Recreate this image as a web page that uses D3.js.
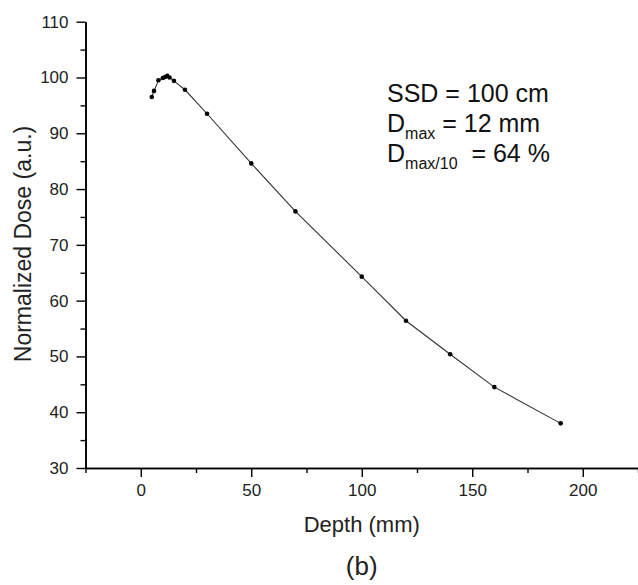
<!DOCTYPE html>
<html>
<head>
<meta charset="utf-8">
<script src="https://cdn.jsdelivr.net/npm/d3@7"></script>
<style>
  body { margin: 0; background: #fff; }
  svg { display: block; font-family: "Liberation Sans", Arial, sans-serif; }
</style>
</head>
<body>
<svg id="chart"></svg>
<script>
// depth (mm) and normalized dose (a.u.)
const depths = [5, 6, 8, 10, 11, 12, 13, 15, 20, 30, 50, 70, 100, 120, 140, 160, 190];
const doses = [96.5, 97.6, 99.5, 99.9, 100.1, 100.3, 100.0, 99.4, 97.8, 93.5, 84.6, 76.0, 64.3, 56.4, 50.4, 44.5, 38.0];
const xTicks = [0, 50, 100, 150, 200];
const xMinor = [-25, 25, 75, 125, 175, 225];
const yTicks = [30, 40, 50, 60, 70, 80, 90, 100, 110];
const yMinor = [35, 45, 55, 65, 75, 85, 95, 105];
const notes = [
  { main: "SSD = 100 cm", sub: null, rest: null },
  { main: "D", sub: "max", rest: " = 12 mm" },
  { main: "D", sub: "max/10", rest: "\u00a0\u00a0= 64 %" }
];

const W = 638, H = 585;
const svg = d3.select("#chart").attr("width", W).attr("height", H);

const x = d3.scaleLinear().domain([-25, 225]).range([85.5, 638]);
const y = d3.scaleLinear().domain([30, 110]).range([468, 21.7]);

const data = depths.map((d, i) => ({ depth: d, dose: doses[i] }));

// axes
svg.append("g").attr("transform", "translate(0," + y(30) + ")")
  .call(d3.axisBottom(x).tickValues(xTicks).tickSize(9).tickPadding(7).tickSizeOuter(0));
svg.append("g").attr("transform", "translate(0," + y(30) + ")")
  .call(d3.axisBottom(x).tickValues(xMinor).tickSize(5).tickFormat("").tickSizeOuter(0));
svg.append("g").attr("transform", "translate(" + x(-25) + ",0)")
  .call(d3.axisLeft(y).tickValues(yTicks).tickSize(9).tickPadding(8).tickSizeOuter(0));
svg.append("g").attr("transform", "translate(" + x(-25) + ",0)")
  .call(d3.axisLeft(y).tickValues(yMinor).tickSize(5).tickFormat("").tickSizeOuter(0));

svg.selectAll(".domain").attr("stroke", "#000").attr("stroke-width", 1.6);
svg.selectAll(".tick line").attr("stroke", "#000").attr("stroke-width", 1.4);
svg.selectAll(".tick text").attr("fill", "#222").style("font-size", "17px")
  .style("font-family", "'Liberation Sans', Arial, sans-serif");

// axis titles
svg.append("text")
  .attr("x", x(100)).attr("y", 532)
  .attr("text-anchor", "middle")
  .attr("fill", "#222")
  .style("font-size", "22px")
  .text("Depth (mm)");

svg.append("text")
  .attr("transform", "translate(31,244) rotate(-90)")
  .attr("text-anchor", "middle")
  .attr("fill", "#222")
  .style("font-size", "23px")
  .text("Normalized Dose (a.u.)");

svg.append("text")
  .attr("x", x(100)).attr("y", 575)
  .attr("text-anchor", "middle")
  .attr("fill", "#222")
  .style("font-size", "26px")
  .text("(b)");

// curve
const line = d3.line().x(d => x(d.depth)).y(d => y(d.dose));
svg.append("path").datum(data)
  .attr("fill", "none")
  .attr("stroke", "#333")
  .attr("stroke-width", 1.1)
  .attr("d", line);

svg.append("g").selectAll("circle").data(data).enter()
  .append("circle")
  .attr("cx", d => x(d.depth))
  .attr("cy", d => y(d.dose))
  .attr("r", 2.3)
  .attr("fill", "#000");

// annotation
const note = svg.append("g").attr("fill", "#111").style("font-size", "25px");
notes.forEach((n, i) => {
  const t = note.append("text").attr("x", 387).attr("y", 102 + i * 30);
  t.append("tspan").text(n.main);
  if (n.sub) {
    t.append("tspan").attr("dy", 7).style("font-size", "16px").text(n.sub);
    t.append("tspan").attr("dy", -7).text(n.rest);
  }
});
</script>
</body>
</html>
